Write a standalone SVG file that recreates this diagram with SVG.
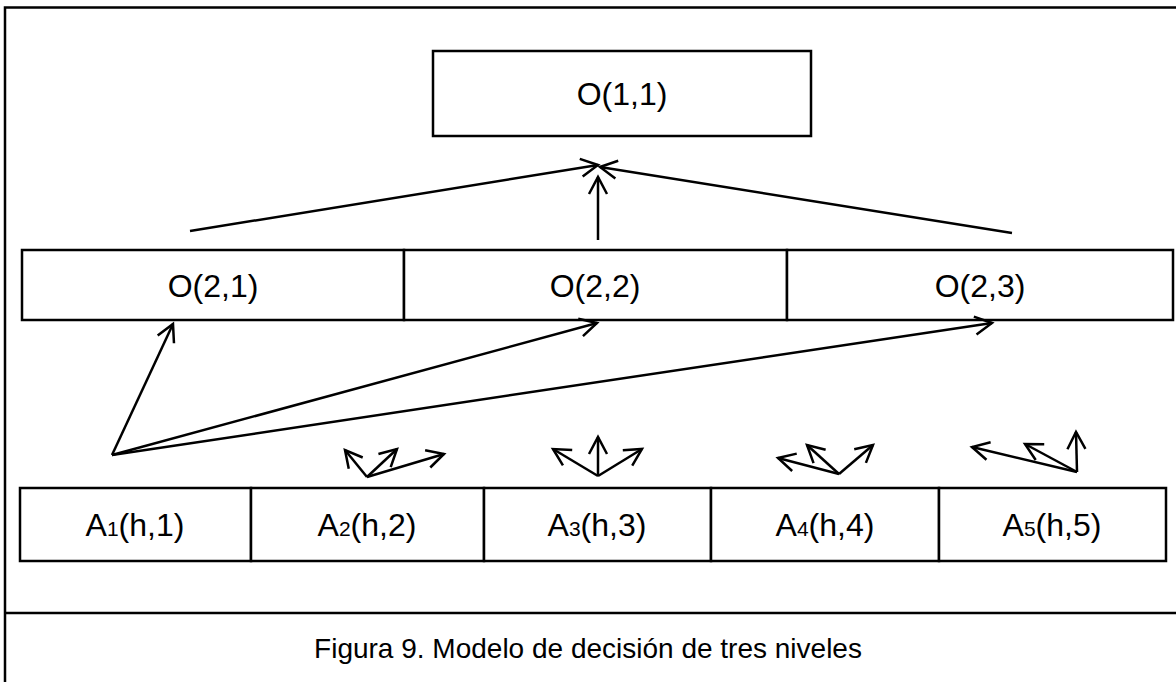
<svg xmlns="http://www.w3.org/2000/svg" width="1176" height="682" viewBox="0 0 1176 682">
  <style>
    .box { fill: #fff; stroke: #000; stroke-width: 2.5; }
    .rule { fill: none; stroke: #000; stroke-width: 2.5; }
    .lbl { font-family: "Liberation Sans", Arial, sans-serif; font-size: 32px; fill: #000; text-anchor: middle; }
    .sub { font-size: 21px; }
    .cap { font-family: "Liberation Sans", Arial, sans-serif; font-size: 28px; fill: #000; text-anchor: middle; }
    .arr { fill: none; stroke: #000; stroke-width: 2.5; marker-end: url(#ah); }
  </style>
  <defs>
    <marker id="ah" viewBox="-20 -11 22 22" refX="0" refY="0" markerWidth="22" markerHeight="22" markerUnits="userSpaceOnUse" orient="auto" overflow="visible">
      <path d="M-17,-9 L0,0 L-17,9" fill="none" stroke="#000" stroke-width="2.5" stroke-linejoin="miter"/>
    </marker>
  </defs>

  <rect width="1176" height="682" fill="#fff"/>

  <!-- page frame and caption rule -->
  <g id="frame">
    <path class="rule" d="M5,682 V7.5 H1176"/>
    <path class="rule" d="M5,613 H1176"/>
  </g>

  <!-- top level -->
  <g id="o11">
    <rect class="box" x="433" y="51" width="378" height="85"/>
    <text class="lbl" x="622" y="105">O(1,1)</text>
  </g>

  <!-- second level -->
  <g id="o21">
    <rect class="box" x="22" y="250" width="382" height="70"/>
    <text class="lbl" x="213" y="297">O(2,1)</text>
  </g>
  <g id="o22">
    <rect class="box" x="404" y="250" width="383" height="70"/>
    <text class="lbl" x="595" y="297">O(2,2)</text>
  </g>
  <g id="o23">
    <rect class="box" x="787" y="250" width="386" height="70"/>
    <text class="lbl" x="980" y="297">O(2,3)</text>
  </g>

  <!-- alternatives -->
  <g id="a1">
    <rect class="box" x="20" y="488" width="231" height="73"/>
    <text class="lbl" x="135" y="536">A<tspan class="sub">1</tspan>(h,1)</text>
  </g>
  <g id="a2">
    <rect class="box" x="251" y="488" width="233" height="73"/>
    <text class="lbl" x="367" y="536">A<tspan class="sub">2</tspan>(h,2)</text>
  </g>
  <g id="a3">
    <rect class="box" x="484" y="488" width="227" height="73"/>
    <text class="lbl" x="597" y="536">A<tspan class="sub">3</tspan>(h,3)</text>
  </g>
  <g id="a4">
    <rect class="box" x="711" y="488" width="228" height="73"/>
    <text class="lbl" x="825" y="536">A<tspan class="sub">4</tspan>(h,4)</text>
  </g>
  <g id="a5">
    <rect class="box" x="939" y="488" width="227" height="73"/>
    <text class="lbl" x="1052" y="536">A<tspan class="sub">5</tspan>(h,5)</text>
  </g>

  <!-- connectors -->
  <g id="connectors">
    <!-- into O(1,1) -->
    <line class="arr" x1="190" y1="231" x2="598" y2="165"/>
    <line class="arr" x1="1012" y1="233" x2="600" y2="167"/>
    <line class="arr" x1="598" y1="240" x2="598" y2="177"/>
    <!-- from A1 to second level -->
    <line class="arr" x1="112" y1="455" x2="173" y2="324"/>
    <line class="arr" x1="112" y1="455" x2="597" y2="323"/>
    <line class="arr" x1="112" y1="455" x2="992" y2="323"/>
    <!-- A2 -->
    <line class="arr" x1="367" y1="477" x2="345" y2="450"/>
    <line class="arr" x1="367" y1="477" x2="397" y2="449"/>
    <line class="arr" x1="367" y1="477" x2="444" y2="454"/>
    <!-- A3 -->
    <line class="arr" x1="598" y1="476" x2="553" y2="449"/>
    <line class="arr" x1="598" y1="476" x2="598" y2="437"/>
    <line class="arr" x1="598" y1="476" x2="642" y2="449"/>
    <!-- A4 -->
    <line class="arr" x1="839" y1="474" x2="778" y2="458"/>
    <line class="arr" x1="839" y1="474" x2="807" y2="445"/>
    <line class="arr" x1="839" y1="474" x2="873" y2="445"/>
    <!-- A5 -->
    <line class="arr" x1="1077" y1="472" x2="972" y2="447"/>
    <line class="arr" x1="1077" y1="472" x2="1025" y2="444"/>
    <line class="arr" x1="1077" y1="472" x2="1076" y2="432"/>
  </g>

  <g id="caption">
    <text class="cap" x="588" y="658">Figura 9. Modelo de decisión de tres niveles</text>
  </g>
</svg>
